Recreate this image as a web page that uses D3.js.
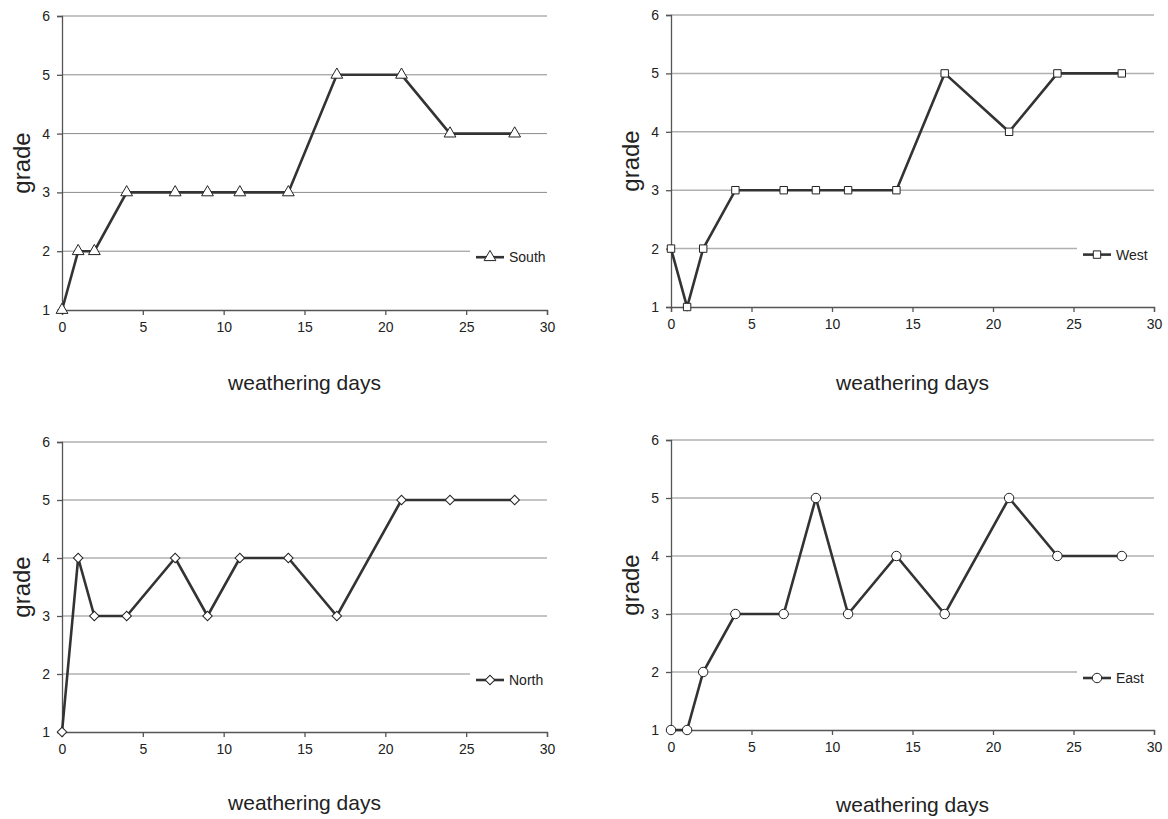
<!DOCTYPE html>
<html>
<head>
<meta charset="utf-8">
<script src="https://cdn.jsdelivr.net/npm/d3@7"></script>
<style>
  body { margin: 0; background: #fff; }
  text { font-family: "Liberation Sans", Arial, sans-serif; fill: #222; }
</style>
</head>
<body>
<div id="chart"></div>
<script>
var days = [0, 1, 2, 4, 7, 9, 11, 14, 17, 21, 24, 28];
var south = [1, 2, 2, 3, 3, 3, 3, 3, 5, 5, 4, 4];
var west  = [2, 1, 2, 3, 3, 3, 3, 3, 5, 4, 5, 5];
var north = [1, 4, 3, 3, 4, 3, 4, 4, 3, 5, 5, 5];
var east  = [1, 1, 2, 3, 3, 5, 3, 4, 3, 5, 4, 4];
var xTicks = [0, 5, 10, 15, 20, 25, 30];
var yTicks = [1, 2, 3, 4, 5, 6];

var w = 1168, h = 819;

// one panel per facade
var panels = [
  {name: "South", values: south, symbol: d3.symbolTriangle, rot: 0,  left: 62, right: 547, top: 16, bottom: 310, grid: "#8a8a8a", title: 383},
  {name: "West",  values: west,  symbol: d3.symbolSquare,   rot: 0,  left: 671, right: 1154, top: 15, bottom: 307, grid: "#b0b0b0", title: 383},
  {name: "North", values: north, symbol: d3.symbolSquare,   rot: 45, left: 62, right: 547, top: 442, bottom: 732, grid: "#8a8a8a", title: 803},
  {name: "East",  values: east,  symbol: d3.symbolCircle,   rot: 0,  left: 671, right: 1154, top: 440, bottom: 730, grid: "#b0b0b0", title: 805}
];

var symbolSize = {"South": 60, "West": 55, "North": 45, "East": 70};

var svg = d3.select("#chart").append("svg")
  .attr("width", w)
  .attr("height", h);

panels.forEach(function(p) {
  var x = d3.scaleLinear().domain([0, 30]).range([p.left, p.right]);
  var y = d3.scaleLinear().domain([1, 6]).range([p.bottom, p.top]);
  var g = svg.append("g");

  // gridlines (the one at 2 stops short of the legend)
  g.selectAll("line.grid")
    .data(yTicks.filter(function(d) { return d > 1; }))
    .enter().append("line")
    .attr("class", "grid")
    .attr("x1", p.left)
    .attr("x2", function(d) { return d == 2 ? p.right - 77 : p.right; })
    .attr("y1", function(d) { return y(d); })
    .attr("y2", function(d) { return y(d); })
    .attr("stroke", p.grid)
    .attr("stroke-width", p.grid == "#b0b0b0" ? 1.5 : 1);

  var xAxis = g.append("g")
    .attr("transform", "translate(0," + p.bottom + ")")
    .call(d3.axisBottom(x).tickValues(xTicks).tickFormat(d3.format("d")).tickSize(5).tickPadding(7));
  var yAxis = g.append("g")
    .attr("transform", "translate(" + p.left + ",0)")
    .call(d3.axisLeft(y).tickValues(yTicks).tickFormat(d3.format("d")).tickSize(5).tickPadding(7));

  [xAxis, yAxis].forEach(function(a) {
    a.attr("font-size", 14).attr("font-family", "Liberation Sans, Arial, sans-serif");
    a.select(".domain").attr("stroke", "#555").attr("stroke-width", 1.3);
    a.selectAll(".tick line").attr("stroke", "#555").attr("stroke-width", 1.3);
    a.selectAll(".tick text").attr("fill", "#222");
  });

  var pts = days.map(function(d, i) { return {day: d, grade: p.values[i]}; });

  var line = d3.line()
    .x(function(d) { return x(d.day); })
    .y(function(d) { return y(d.grade); });

  g.append("path")
    .datum(pts)
    .attr("d", line)
    .attr("fill", "none")
    .attr("stroke", "#333")
    .attr("stroke-width", 2.6);

  var sym = d3.symbol().type(p.symbol).size(symbolSize[p.name]);
  g.selectAll("path.mark")
    .data(pts)
    .enter().append("path")
    .attr("class", "mark")
    .attr("d", sym)
    .attr("transform", function(d) { return "translate(" + x(d.day) + "," + y(d.grade) + ") rotate(" + p.rot + ")"; })
    .attr("fill", "#fff")
    .attr("stroke", "#222")
    .attr("stroke-width", 1);

  // legend
  var ly = y(2) + 6;
  g.append("line")
    .attr("x1", p.right - 71).attr("x2", p.right - 43)
    .attr("y1", ly).attr("y2", ly)
    .attr("stroke", "#333").attr("stroke-width", 2.6);
  g.append("path")
    .attr("d", sym)
    .attr("transform", "translate(" + (p.right - 57) + "," + ly + ") rotate(" + p.rot + ")")
    .attr("fill", "#fff").attr("stroke", "#222");
  g.append("text")
    .attr("x", p.right - 38).attr("y", ly + 5)
    .style("font-size", "14px")
    .text(p.name);

  // axis titles
  g.append("text")
    .attr("x", (p.left + p.right) / 2)
    .attr("y", p.title + 7)
    .attr("text-anchor", "middle")
    .style("font-size", "21px")
    .text("weathering days");

  g.append("text")
    .attr("transform", "translate(" + (p.left - 32) + "," + ((p.top + p.bottom) / 2) + ") rotate(-90)")
    .attr("text-anchor", "middle")
    .style("font-size", "24px")
    .text("grade");
});
</script>
</body>
</html>
